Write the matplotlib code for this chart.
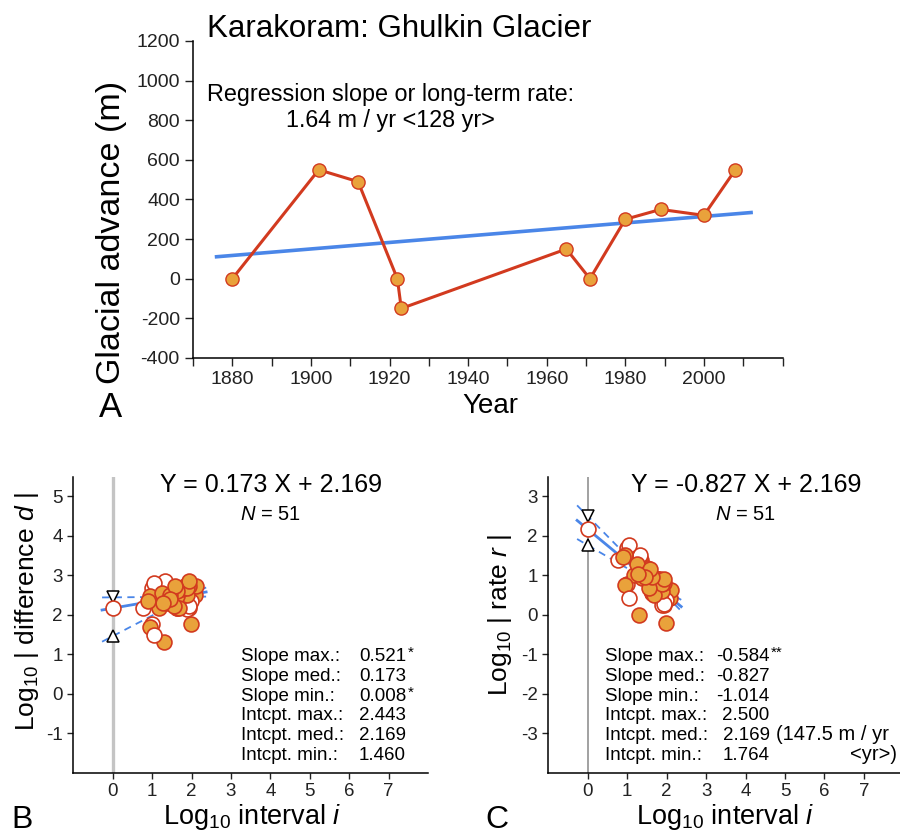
import numpy as np
import matplotlib
matplotlib.use("Agg")
import matplotlib.pyplot as plt

plt.rcParams['font.family'] = ['Liberation Sans', 'DejaVu Sans']
plt.rcParams['mathtext.fontset'] = 'custom'
plt.rcParams['mathtext.rm'] = 'Liberation Sans'
plt.rcParams['mathtext.it'] = 'Liberation Sans:italic'
plt.rcParams['axes.linewidth'] = 1.1
plt.rcParams['axes.unicode_minus'] = False

# Ghulkin Glacier front position observations
years = [1880, 1902, 1912, 1922, 1923, 1965, 1971, 1980, 1989, 2000, 2008]
advance = [0, 550, 490, 0, -150, 150, 0, 300, 350, 320, 550]

# Fitted regression summaries printed on panels B and C
diff_slope = {"max": 0.521, "med": 0.173, "min": 0.008}
diff_icpt = {"max": 2.443, "med": 2.169, "min": 1.460}
rate_slope = {"max": -0.584, "med": -0.827, "min": -1.014}
rate_icpt = {"max": 2.500, "med": 2.169, "min": 1.764}
unit_rate = 147.5  # m / yr at a one-year interval

year_ticks = list(range(1870, 2021, 10))
advance_ticks = list(range(-400, 1201, 200))
log_x_ticks = list(range(0, 8))
diff_y_ticks = list(range(-1, 6))
rate_y_ticks = list(range(-3, 4))

RED = "#d23a1f"
ORANGE = "#e9a23b"
BLUE = "#4a86e8"

W, H = 900, 834
fig = plt.figure(figsize=(W / 100, H / 100), dpi=100)


def box(left, top, right, bottom):
    return [left / W, 1 - bottom / H, (right - left) / W, (bottom - top) / H]


def fx(px):
    return px / W


def fy(py):
    return 1 - py / H


# ---------------- Panel A: time series ----------------
axA = fig.add_axes(box(193, 41, 782.5, 358))
yr = np.array(years, float)
adv = np.array(advance, float)
slope, icpt = np.polyfit(yr, adv, 1)
xl = np.array([yr.min() - 4, yr.max() + 4])
axA.plot(xl, slope * xl + icpt, color=BLUE, lw=2.6, zorder=2)
axA.plot(yr, adv, color=RED, lw=2.2, marker="o", ms=9.5,
         mfc=ORANGE, mec=RED, mew=1.0, zorder=3)
axA.set_xlim(1870, 2020)
axA.set_ylim(-400, 1200)
axA.set_xticks(year_ticks)
axA.set_xticklabels([str(t) if (t % 20 == 0 and 1880 <= t <= 2000) else "" for t in year_ticks])
axA.set_yticks(advance_ticks)
axA.tick_params(labelsize=14, length=5.5, width=1.0, pad=4, colors="#222222")
for s in ("top", "right"):
    axA.spines[s].set_visible(False)

fig.text(fx(207), fy(37), "Karakoram: Ghulkin Glacier", fontsize=22.5, va="baseline")
fig.text(fx(207), fy(101), "Regression slope or long-term rate:", fontsize=16.8, va="baseline")
fig.text(fx(390), fy(127), f"{slope:.2f} m / yr <{int(yr.max() - yr.min())} yr>",
         fontsize=16.8, va="baseline", ha="center")
fig.text(fx(112), fy(232), "Glacial advance (m)", fontsize=24.5, rotation=90,
         ha="center", va="center")
fig.text(fx(490), fy(413), "Year", fontsize=20, ha="center", va="baseline")
fig.text(fx(99), fy(417), "A", fontsize=25, va="baseline")

# ---------------- pairwise differences and rates ----------------
pi, pd, pr, filled = [], [], [], []
for a in range(len(years)):
    for b in range(a + 1, len(years)):
        d = advance[b] - advance[a]
        if d == 0:
            continue
        dt = years[b] - years[a]
        pi.append(np.log10(dt))
        pd.append(np.log10(abs(d)))
        pr.append(np.log10(abs(d) / dt))
        filled.append(d > 0)
pi, pd, pr, filled = map(np.array, (pi, pd, pr, filled))
n_pairs = len(pi)

xf = np.array([-0.27, 2.37])


def pair_panel(ax, yv, slopes, icpts, ylim, yticks, vcol, vlw):
    ax.axvline(0, color=vcol, lw=vlw, zorder=0)
    ax.plot(xf, slopes["min"] * xf + icpts["max"], color=BLUE, lw=1.3, ls=(0, (4, 3)), zorder=1)
    ax.plot(xf, slopes["max"] * xf + icpts["min"], color=BLUE, lw=1.3, ls=(0, (4, 3)), zorder=1)
    ax.plot(xf, slopes["med"] * xf + icpts["med"], color=BLUE, lw=2.0, zorder=1)
    ax.plot([0], [icpts["max"]], marker="v", ms=9, mfc="white", mec="black", mew=1.1, zorder=2)
    ax.plot([0], [icpts["min"]], marker="^", ms=9, mfc="white", mec="black", mew=1.1, zorder=2)
    for k in range(n_pairs):
        ax.scatter(pi[k], yv[k], s=115, facecolor=ORANGE if filled[k] else "white",
                   edgecolor=RED, linewidth=1.2, zorder=3 + k * 0.001)
    ax.set_xlim(-1, 8)
    ax.set_ylim(*ylim)
    ax.set_xticks(log_x_ticks)
    ax.set_yticks(yticks)
    ax.tick_params(labelsize=13.5, length=4.5, width=1.0, pad=3, colors="#222222")
    for s in ("top", "right"):
        ax.spines[s].set_visible(False)


axB = fig.add_axes(box(73.3, 476.7, 428, 772.7))
pair_panel(axB, pd, diff_slope, diff_icpt, (-2, 5.5), diff_y_ticks, "#c4c4c4", 2.4)
axC = fig.add_axes(box(548.3, 476.7, 903.3, 772.7))
pair_panel(axC, pr, rate_slope, rate_icpt, (-4, 3.5), rate_y_ticks, "#9a9a9a", 1.3)

# equations
fig.text(fx(271), fy(491.5), f"Y = {diff_slope['med']:.3f} X + {diff_icpt['med']:.3f}",
         fontsize=18, ha="center", va="baseline")
fig.text(fx(270), fy(520.5), rf"$N$ = {n_pairs}", fontsize=14.5, ha="center", va="baseline")
fig.text(fx(746), fy(491.5), f"Y = {rate_slope['med']:.3f} X + {rate_icpt['med']:.3f}",
         fontsize=18, ha="center", va="baseline")
fig.text(fx(745), fy(520.5), rf"$N$ = {n_pairs}", fontsize=14.5, ha="center", va="baseline")

# statistics tables
labels = ["Slope max.:", "Slope med.:", "Slope min.:",
          "Intcpt. max.:", "Intcpt. med.:", "Intcpt. min.:"]
b_vals = [diff_slope["max"], diff_slope["med"], diff_slope["min"],
          diff_icpt["max"], diff_icpt["med"], diff_icpt["min"]]
c_vals = [rate_slope["max"], rate_slope["med"], rate_slope["min"],
          rate_icpt["max"], rate_icpt["med"], rate_icpt["min"]]
base0, step = 661, 19.8
for k, lab in enumerate(labels):
    yb = fy(base0 + k * step)
    fig.text(fx(241), yb, lab, fontsize=13.5, va="baseline")
    fig.text(fx(406), yb, f"{b_vals[k]:.3f}", fontsize=13.5, va="baseline", ha="right")
    fig.text(fx(605), yb, lab, fontsize=13.5, va="baseline")
    fig.text(fx(769.5), yb, f"{c_vals[k]:.3f}", fontsize=13.5, va="baseline", ha="right")
fig.text(fx(408), fy(base0 - 4), "*", fontsize=11, va="baseline")
fig.text(fx(408), fy(base0 + 2 * step - 4), "*", fontsize=11, va="baseline")
fig.text(fx(771), fy(base0 - 4), "**", fontsize=11, va="baseline")
fig.text(fx(776), fy(base0 + 4 * step), f"({unit_rate:.1f} m / yr",
         fontsize=14.5, va="baseline")
fig.text(fx(897), fy(base0 + 5 * step), "<yr>)", fontsize=14.5, va="baseline", ha="right")

# axis titles for B and C
fig.text(fx(27), fy(612), r"Log$_{10}$ | difference $d$ |", fontsize=19, rotation=90,
         ha="center", va="center")
fig.text(fx(500), fy(615), r"Log$_{10}$ | rate $r$ |", fontsize=19, rotation=90,
         ha="center", va="center")
fig.text(fx(252), fy(824), r"Log$_{10}$ interval $i$", fontsize=19.5, ha="center", va="baseline")
fig.text(fx(725), fy(824), r"Log$_{10}$ interval $i$", fontsize=19.5, ha="center", va="baseline")
fig.text(fx(11), fy(828), "B", fontsize=23, va="baseline")
fig.text(fx(485), fy(828), "C", fontsize=23, va="baseline")

fig.savefig("out.png", dpi=100)
